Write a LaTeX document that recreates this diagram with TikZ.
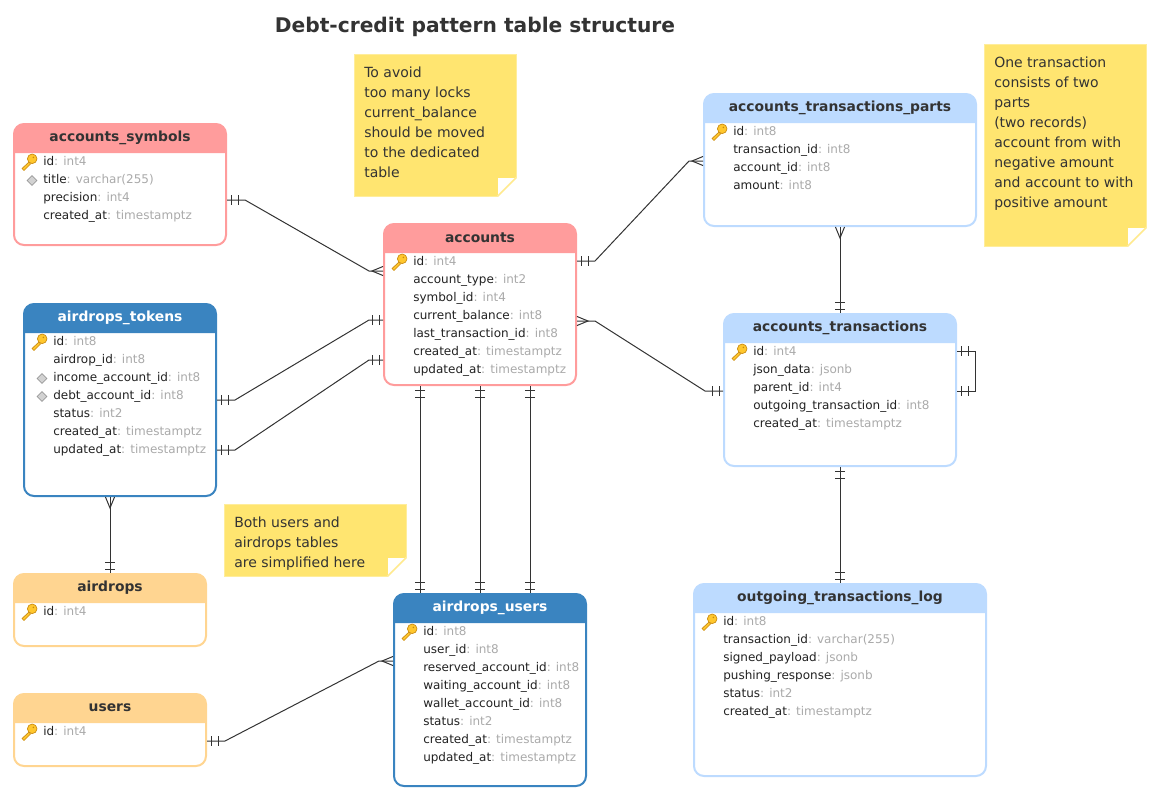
\documentclass[tikz,border=0pt]{standalone}
\usepackage{fontspec}
\setmainfont{DejaVu Sans}
\usetikzlibrary{shapes,arrows.meta,positioning}

\definecolor{Pink}{HTML}{FF9C9C}
\definecolor{Steel}{HTML}{3A84C0}
\definecolor{Sky}{HTML}{BDDBFF}
\definecolor{Peach}{HTML}{FFD591}
\definecolor{Sticky}{HTML}{FFE570}
\definecolor{Ink}{HTML}{333333}
\definecolor{FieldInk}{HTML}{222222}
\definecolor{TypeGray}{HTML}{AAAAAA}

\def\PX{0.75pt}

% ends of the relations
\pgfdeclarearrow{
	name=OneOne,
	setup code={\pgfarrowssetlineend{0pt}\pgfarrowssettipend{0pt}\pgfarrowssetbackend{-8.25pt}\pgfarrowshullpoint{0pt}{0pt}},
	drawing code={
		\pgfpathmoveto{\pgfqpoint{-3pt}{-3.75pt}}\pgfpathlineto{\pgfqpoint{-3pt}{3.75pt}}
		\pgfpathmoveto{\pgfqpoint{-8.25pt}{-3.75pt}}\pgfpathlineto{\pgfqpoint{-8.25pt}{3.75pt}}
		\pgfusepathqstroke},
}
\pgfdeclarearrow{
	name=Crow,
	setup code={\pgfarrowssetlineend{0pt}\pgfarrowssettipend{0pt}\pgfarrowssetbackend{-8.25pt}\pgfarrowshullpoint{0pt}{0pt}},
	drawing code={
		\pgfpathmoveto{\pgfqpoint{0pt}{-3.4pt}}\pgfpathlineto{\pgfqpoint{-8.25pt}{0pt}}\pgfpathlineto{\pgfqpoint{0pt}{3.4pt}}
		\pgfusepathqstroke},
}

\tikzset{
	Key/.pic={
		\draw [draw=KeyEdge, fill=KeyGold, line width=0.5pt] (-7,6.5) -- (-5,8.5) -- (1.5,2) -- (1,1) -- (-0.5,0.5) -- cycle;
		\draw [draw=KeyEdge, fill=KeyGold, line width=0.5pt] (3.2,-3.2) circle [radius=4.8];
		\fill [KeyEdge] (4.4,-4.6) circle [radius=0.9];
	}
}
\definecolor{KeyGold}{HTML}{FFC72E}
\definecolor{KeyEdge}{HTML}{C98A10}

% id, x, y, width, height, colour, title colour, title, fields
\newcommand{\TableBox}[9]{
	\node (#1) at ({#2+#4/2},{#3+#5/2}) [Table, draw=#6, minimum width=#4*\PX, minimum height=#5*\PX] {};
	\fill [#6, rounded corners=7.5pt] (#2,#3+29) [sharp corners] -- (#2,#3+29) [rounded corners=7.5pt] -- (#2,#3) -- (#2+#4,#3) [sharp corners] -- (#2+#4,#3+29) -- cycle;
	\node (#1-title) at ({#2+#4/2},#3+14) [Title, text=#7] {#8};
	\foreach \f/\t [count=\i] in {#9} {
		\node (#1-\i) at (#2+29,#3+38+18*\i-18) [Field] {\f{\color{TypeGray}: \t}};
	}
	\pic at (#2+15,#3+38) {Key};
}

% id, x, y, width, height, text
\newcommand{\NoteBox}[6]{
	\node (#1) at ({#2+#4/2},{#3+#5/2}) [Sticky, minimum width=#4*\PX, minimum height=#5*\PX] {};
	\fill [white] (#2+#4-18,#3+#5-18) rectangle (#2+#4+0.7,#3+#5+0.7);
	\fill [Sticky] (#2+#4+0.5,#3+#5-18) -- (#2+#4-18,#3+#5+0.5) -- (#2+#4-19.5,#3+#5+0.5) -- (#2+#4+0.5,#3+#5-19.5) -- cycle;
	\node (#1-text) at (#2+10,#3+13) [NoteText] {#6};
}

\begin{document}
\begin{tikzpicture}[x=0.75pt,y=-0.75pt]
	\tikzstyle{Table}    = [rectangle, fill=white, line width=1.5pt, rounded corners=7.5pt, inner sep=0pt]
	\tikzstyle{Title}    = [font=\fontsize{10.4}{13}\selectfont\bfseries, inner sep=0pt]
	\tikzstyle{Field}    = [anchor=west, inner sep=0pt, text=FieldInk, text height=6.9pt, text depth=2pt, font=\fontsize{9}{11}\selectfont]
	\tikzstyle{Indexed}  = [diamond, draw=gray!80, fill=gray!35, line width=0.5pt, minimum size=7.5pt, inner sep=0pt]
	\tikzstyle{Sticky}   = [rectangle, fill=Sticky, draw=Sticky!70!white, line width=0.5pt, inner sep=0pt]
	\tikzstyle{NoteText} = [anchor=north west, inner sep=0pt, align=left, text=Ink, font=\fontsize{10.5}{15}\selectfont]
	\tikzstyle{Rel}      = [draw=Ink, line width=0.75pt]

	\useasboundingbox (0,0) rectangle (1160,800);

	\node (heading) at (475,27) [text=Ink, inner sep=0pt, font=\fontsize{15.15}{18}\selectfont\bfseries] {Debt-credit pattern table structure};

	\TableBox{symbols}{14}{124}{212}{121}{Pink}{Ink}{accounts\_symbols}{id/int4, title/varchar(255), precision/int4, created\_at/timestamptz}
	\TableBox{accounts}{384}{224}{192}{161}{Pink}{Ink}{accounts}{id/int4, account\_type/int2, symbol\_id/int4, current\_balance/int8, last\_transaction\_id/int8, created\_at/timestamptz, updated\_at/timestamptz}
	\TableBox{tokens}{24}{304}{192}{192}{Steel}{white}{airdrops\_tokens}{id/int8, airdrop\_id/int8, income\_account\_id/int8, debt\_account\_id/int8, status/int2, created\_at/timestamptz, updated\_at/timestamptz}
	\TableBox{airdrops}{14}{574}{192}{72}{Peach}{Ink}{airdrops}{id/int4}
	\TableBox{users}{14}{694}{192}{72}{Peach}{Ink}{users}{id/int4}
	\TableBox{airusers}{394}{594}{192}{192}{Steel}{white}{airdrops\_users}{id/int8, user\_id/int8, reserved\_account\_id/int8, waiting\_account\_id/int8, wallet\_account\_id/int8, status/int2, created\_at/timestamptz, updated\_at/timestamptz}
	\TableBox{parts}{704}{94}{272}{132}{Sky}{Ink}{accounts\_transactions\_parts}{id/int8, transaction\_id/int8, account\_id/int8, amount/int8}
	\TableBox{trans}{724}{314}{232}{152}{Sky}{Ink}{accounts\_transactions}{id/int4, json\_data/jsonb, parent\_id/int4, outgoing\_transaction\_id/int8, created\_at/timestamptz}
	\TableBox{outgoing}{694}{584}{292}{192}{Sky}{Ink}{outgoing\_transactions\_log}{id/int8, transaction\_id/varchar(255), signed\_payload/jsonb, pushing\_response/jsonb, status/int2, created\_at/timestamptz}

	\node (symbols-idx)  at (32,180.5) [Indexed] {};
	\node (tokens-idx1)  at (42,378.5) [Indexed] {};
	\node (tokens-idx2)  at (42,396.5) [Indexed] {};

	\NoteBox{lockNote}{354}{54}{162}{142}{To avoid\\too many locks\\current\_balance\\should be moved\\to the dedicated\\table}
	\NoteBox{partsNote}{984}{44}{162}{202}{One transaction\\consists of two\\parts\\(two records)\\account from with\\negative amount\\and account to with\\positive amount}
	\NoteBox{usersNote}{224}{504}{182}{72}{Both users and\\airdrops tables\\are simplified here}

	\draw [Rel, OneOne-Crow] (symbols.east |- 0,200) -- ++(18,0) -- ++(124,71) -- (accounts.west |- 0,271);
	\draw [Rel, OneOne-OneOne] (tokens.east |- 0,400) -- ++(18,0) -- ++(134,-80) -- (accounts.west |- 0,320);
	\draw [Rel, OneOne-OneOne] (tokens.east |- 0,450) -- ++(18,0) -- ++(134,-90) -- (accounts.west |- 0,360);
	\draw [Rel, OneOne-Crow] (accounts.east |- 0,261) -- ++(18,0) -- ++(94,-100) -- (parts.west |- 0,161);
	\draw [Rel, Crow-OneOne] (accounts.east |- 0,321) -- ++(18,0) -- ++(110,70) -- (trans.west |- 0,391);
	\draw [Rel, Crow-OneOne] (parts.south -| 840,0) -- (trans.north -| 840,0);
	\draw [Rel, OneOne-OneOne] (trans.south -| 840,0) -- (outgoing.north -| 840,0);
	\draw [Rel, OneOne-OneOne] (trans.east |- 0,351) -- ++(18,0) -- ++(0,40) -- (trans.east |- 0,391);
	\draw [Rel, OneOne-OneOne] (accounts.south -| 420,0) -- (airusers.north -| 420,0);
	\draw [Rel, OneOne-OneOne] (accounts.south -| 480,0) -- (airusers.north -| 480,0);
	\draw [Rel, OneOne-OneOne] (accounts.south -| 530,0) -- (airusers.north -| 530,0);
	\draw [Rel, Crow-OneOne] (tokens.south -| 110,0) -- (airdrops.north -| 110,0);
	\draw [Rel, OneOne-Crow] (users.east |- 0,741) -- ++(18,0) -- ++(154,-80) -- (airusers.west |- 0,661);
\end{tikzpicture}
\end{document}
